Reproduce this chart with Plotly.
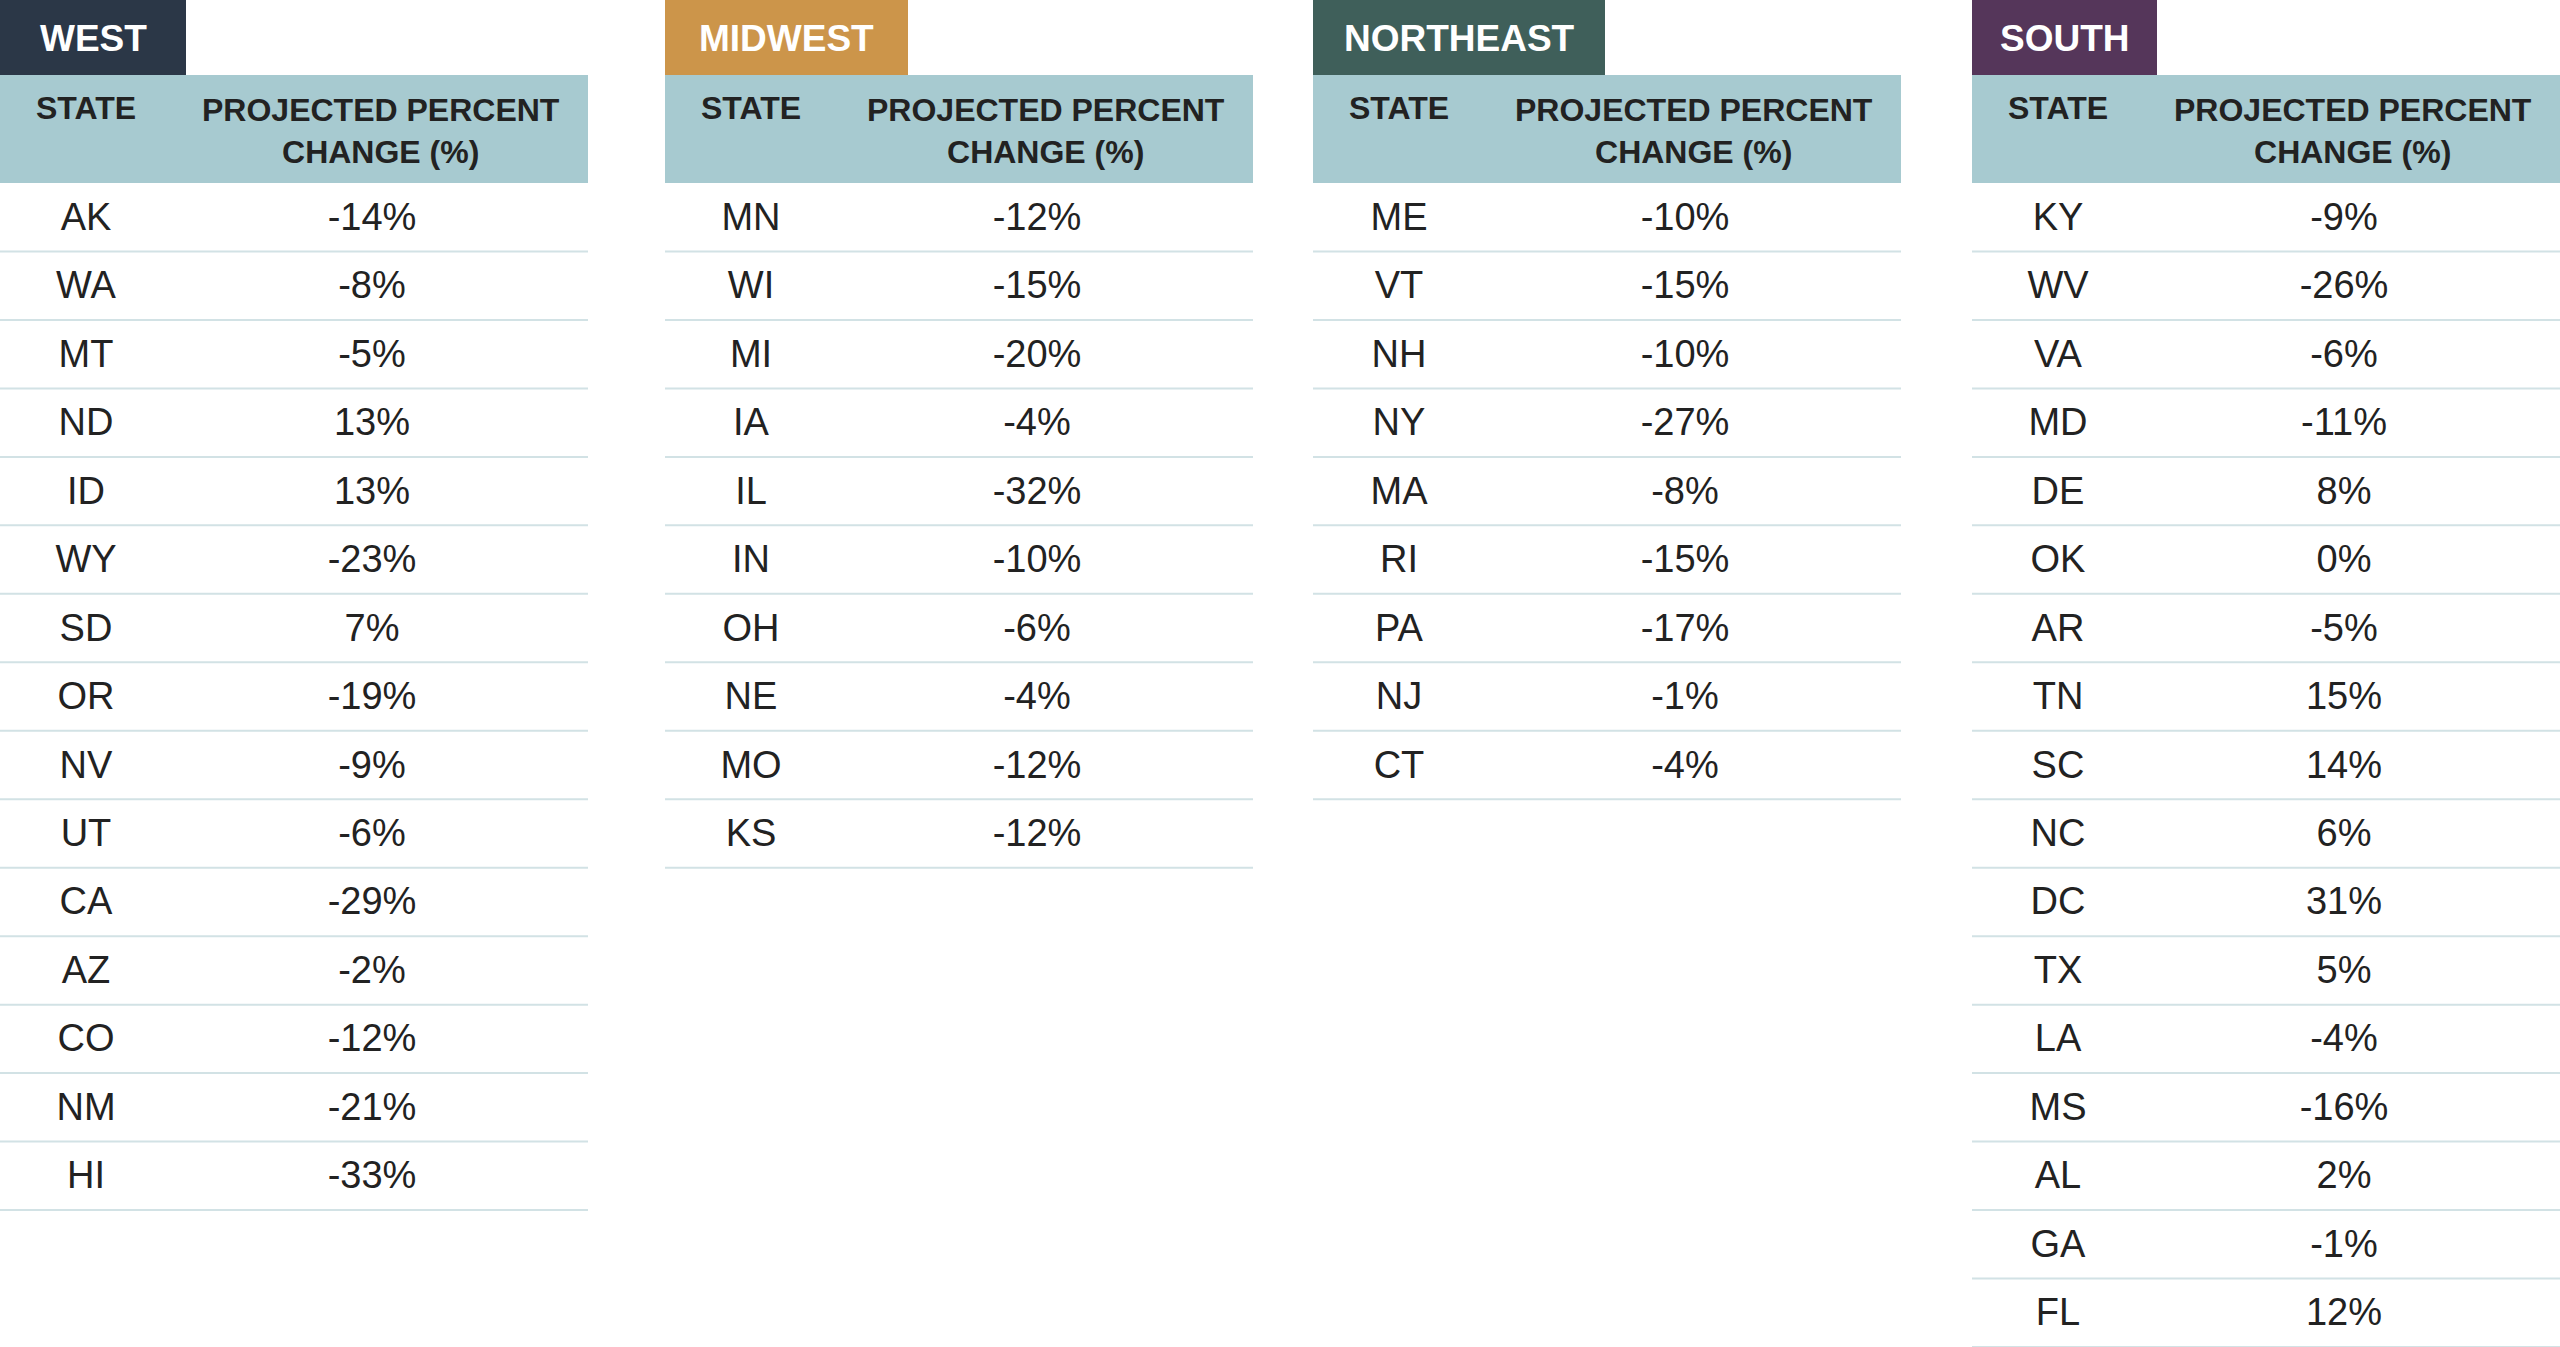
import plotly.graph_objects as go

# --- data -------------------------------------------------------------
regions = ["WEST", "MIDWEST", "NORTHEAST", "SOUTH"]

west_states = ["AK", "WA", "MT", "ND", "ID", "WY", "SD", "OR", "NV", "UT",
               "CA", "AZ", "CO", "NM", "HI"]
west_change = [-14, -8, -5, 13, 13, -23, 7, -19, -9, -6, -29, -2, -12, -21, -33]

midwest_states = ["MN", "WI", "MI", "IA", "IL", "IN", "OH", "NE", "MO", "KS"]
midwest_change = [-12, -15, -20, -4, -32, -10, -6, -4, -12, -12]

northeast_states = ["ME", "VT", "NH", "NY", "MA", "RI", "PA", "NJ", "CT"]
northeast_change = [-10, -15, -10, -27, -8, -15, -17, -1, -4]

south_states = ["KY", "WV", "VA", "MD", "DE", "OK", "AR", "TN", "SC", "NC",
                "DC", "TX", "LA", "MS", "AL", "GA", "FL"]
south_change = [-9, -26, -6, -11, 8, 0, -5, 15, 14, 6, 31, 5, -4, -16, 2, -1, 12]

col_headers = ["STATE", "PROJECTED PERCENT<br>CHANGE (%)"]

# --- styling ----------------------------------------------------------
W, H = 2560, 1347
tab_colors = ["#2b3747", "#cc954a", "#3f5f5a", "#55365a"]
band_color = "#a7cad0"
rule_color = "#d2e2e5"
text_color = "#222222"

table_left = [0, 665, 1313, 1972]
tab_width = [186, 243, 292, 185]
table_w = 588
tab_h = 75
head_bottom = 183
row_h = (H - head_bottom) / 17
state_x = 86
value_x = 372
text_nudge = 3  # glyph baseline sits a touch high otherwise

font_reg = "Liberation Sans, Arial, sans-serif"
font_bold = "Liberation Sans, Arial, sans-serif"

tables = [
    (west_states, west_change),
    (midwest_states, midwest_change),
    (northeast_states, northeast_change),
    (south_states, south_change),
]

fig = go.Figure()
shapes = []
annotations = []

for k, (name, (states, change)) in enumerate(zip(regions, tables)):
    x0 = table_left[k]

    # region tab
    shapes.append(dict(type="rect", xref="x", yref="y", x0=x0, x1=x0 + tab_width[k],
                       y0=0, y1=tab_h, fillcolor=tab_colors[k], line_width=0, layer="below"))
    annotations.append(dict(x=x0 + tab_width[k] / 2, y=tab_h / 2 + 1, xref="x", yref="y",
                            text=f"<b>{name}</b>", showarrow=False,
                            font=dict(family=font_bold, size=37, color="white"),
                            xanchor="center", yanchor="middle"))

    # column header band
    shapes.append(dict(type="rect", xref="x", yref="y", x0=x0, x1=x0 + table_w,
                       y0=tab_h, y1=head_bottom, fillcolor=band_color, line_width=0, layer="below"))
    annotations.append(dict(x=x0 + state_x, y=108, xref="x", yref="y",
                            text=f"<b>{col_headers[0]}</b>", showarrow=False,
                            font=dict(family=font_bold, size=32, color=text_color),
                            xanchor="center", yanchor="middle"))
    annotations.append(dict(x=x0 + 381, y=131, xref="x", yref="y",
                            text=f"<b>{col_headers[1]}</b>", showarrow=False,
                            font=dict(family=font_bold, size=32, color=text_color),
                            xanchor="center", yanchor="middle", align="center"))

    # rows
    ys = [head_bottom + (i + 0.5) * row_h + text_nudge for i in range(len(states))]
    fig.add_trace(go.Scatter(
        x=[x0 + state_x] * len(states), y=ys, mode="text", text=states,
        textposition="middle center",
        textfont=dict(family=font_reg, size=38, color=text_color),
        hoverinfo="skip", showlegend=False
    ))
    fig.add_trace(go.Scatter(
        x=[x0 + value_x] * len(change), y=ys, mode="text",
        text=[f"{v}%" for v in change],
        textposition="middle center",
        textfont=dict(family=font_reg, size=38, color=text_color),
        hoverinfo="skip", showlegend=False
    ))
    for i in range(len(states)):
        yl = head_bottom + (i + 1) * row_h
        shapes.append(dict(type="line", xref="x", yref="y", x0=x0, x1=x0 + table_w,
                           y0=yl, y1=yl, line=dict(color=rule_color, width=2), layer="below"))

fig.update_layout(
    width=W, height=H,
    margin=dict(l=0, r=0, t=0, b=0),
    paper_bgcolor="white", plot_bgcolor="white",
    shapes=shapes, annotations=annotations,
    showlegend=False, hovermode=False
)
fig.update_xaxes(range=[0, W], visible=False, fixedrange=True)
fig.update_yaxes(range=[H, 0], visible=False, fixedrange=True)

# drop the browser's default 8px body margin so the table sits flush
fig.write_html("out.html", config={"displayModeBar": False},
               post_script="document.body.style.margin='0';")
